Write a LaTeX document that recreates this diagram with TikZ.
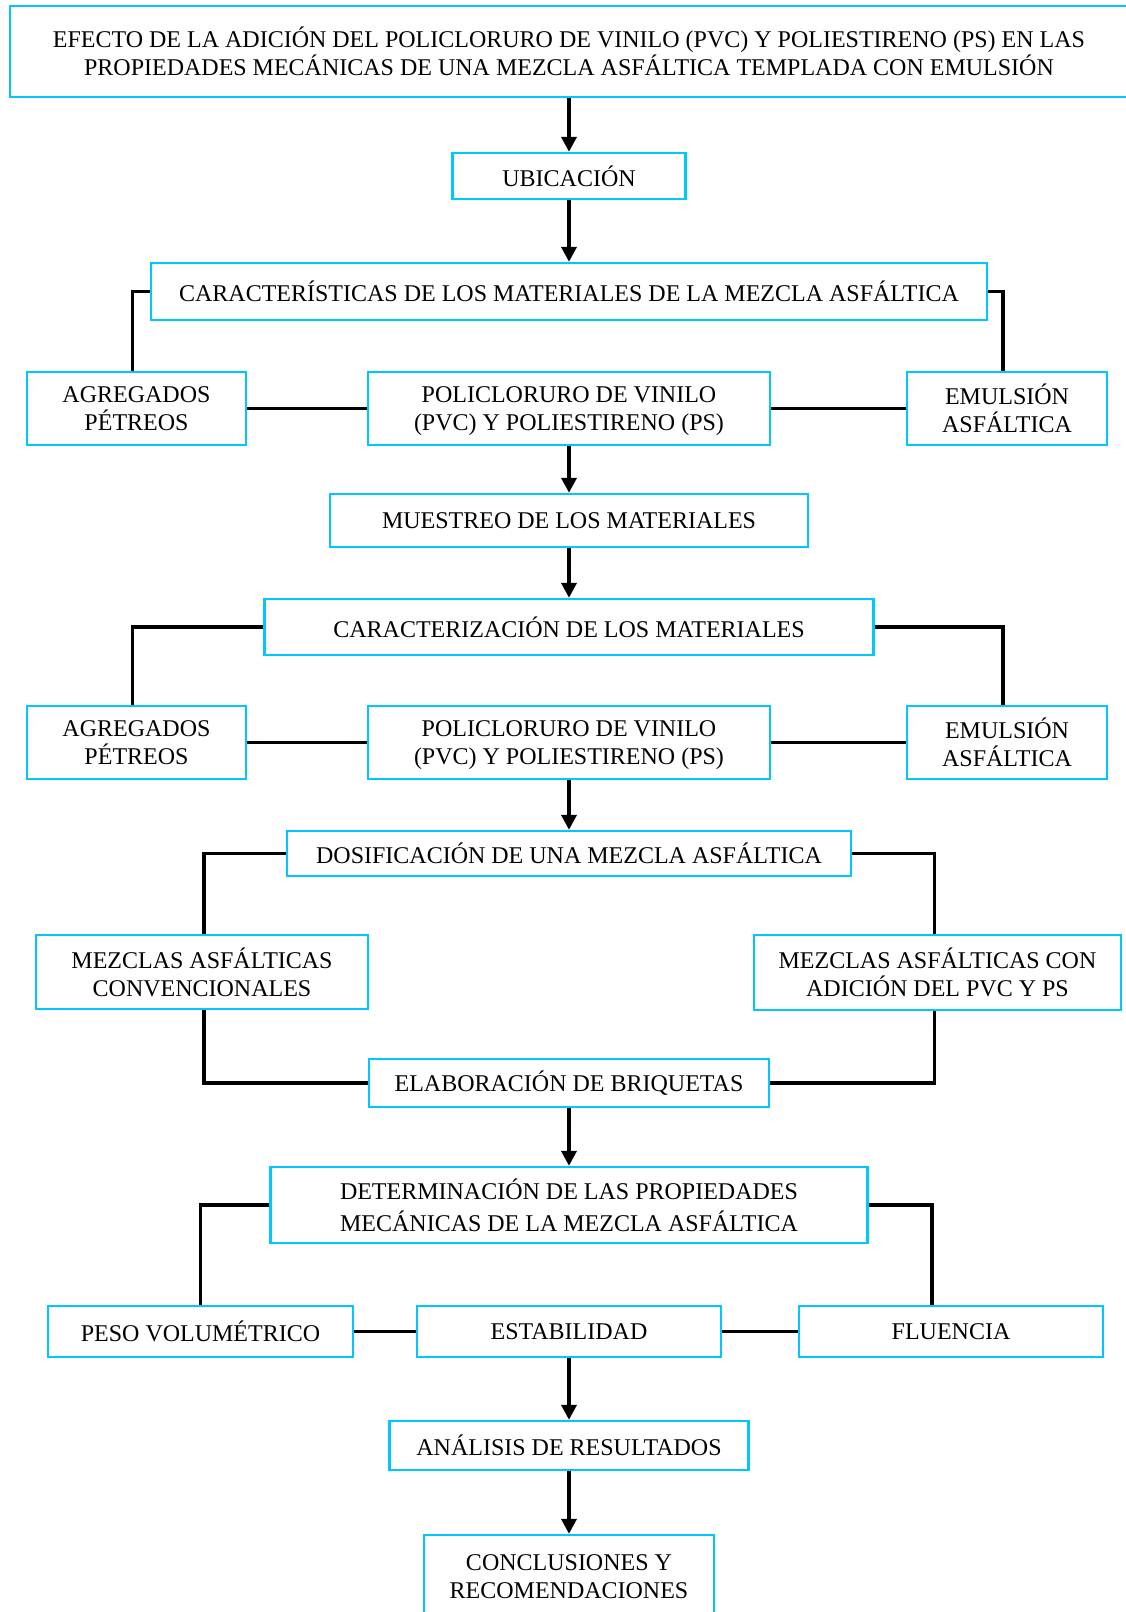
\documentclass[tikz,border=0pt]{standalone}
\usepackage{fontspec}
\setmainfont{Liberation Serif}
\usetikzlibrary{positioning}
\usetikzlibrary{arrows.meta,calc}

\definecolor{celeste}{RGB}{0,200,255}

\tikzset{
  caja/.style={draw=celeste, line width=1.2pt, fill=white, align=center,
    font=\fontsize{12}{14}\selectfont, inner sep=2pt},
  linea/.style={line width=1.8pt, black},
  flecha/.style={line width=1.8pt, black, -{Triangle[length=7.5pt,width=7.5pt]}}
}

\begin{document}
\begin{tikzpicture}[x=0.5pt, y=-0.5pt]

\useasboundingbox (0,0) rectangle (1125,1612);

% encabezado
\node[caja, minimum width=559pt, minimum height=45.5pt] (titulo) at (569,51.5)
  {EFECTO DE LA ADICIÓN DEL POLICLORURO DE VINILO (PVC) Y POLIESTIRENO (PS) EN LAS\\
   PROPIEDADES MECÁNICAS DE UNA MEZCLA ASFÁLTICA TEMPLADA CON EMULSIÓN};
\node[caja, minimum width=116.5pt, minimum height=23pt] (ubic) at (569,176) {UBICACIÓN};

% materiales
\node[caja, minimum width=418pt, minimum height=28.5pt] (caract) at (569,291.5)
  {CARACTERÍSTICAS DE LOS MATERIALES DE LA MEZCLA ASFÁLTICA};
\node[caja, minimum width=109.5pt, minimum height=36.5pt] (agreg1) at (136.5,408.5) {AGREGADOS\\PÉTREOS};
\node[caja, minimum width=201pt, minimum height=36.5pt] (poli1) at (569,408.5)
  {POLICLORURO DE VINILO\\\raisebox{0pt}[\height][0pt]{(PVC) Y POLIESTIRENO (PS)}};
\node[caja, minimum width=100pt, minimum height=36.5pt] (emul1) at (1007,408.5) {EMULSIÓN\\ASFÁLTICA};

\node[caja, minimum width=239pt, minimum height=26.5pt] (muestreo) at (569,520.5) {MUESTREO DE LOS MATERIALES};
\node[caja, minimum width=304.5pt, minimum height=28pt] (caracteriz) at (569,627) {CARACTERIZACIÓN DE LOS MATERIALES};
\node[caja, minimum width=109.5pt, minimum height=36.5pt] (agreg2) at (136.5,742.5) {AGREGADOS\\PÉTREOS};
\node[caja, minimum width=201pt, minimum height=36.5pt] (poli2) at (569,742.5)
  {POLICLORURO DE VINILO\\\raisebox{0pt}[\height][0pt]{(PVC) Y POLIESTIRENO (PS)}};
\node[caja, minimum width=100pt, minimum height=36.5pt] (emul2) at (1007,742.5) {EMULSIÓN\\ASFÁLTICA};

% dosificacion
\node[caja, minimum width=282pt, minimum height=22.5pt] (dosif) at (569,853.5) {DOSIFICACIÓN DE UNA MEZCLA ASFÁLTICA};
\node[caja, minimum width=166pt, minimum height=37pt] (mconv) at (202,972) {MEZCLAS ASFÁLTICAS\\CONVENCIONALES};
\node[caja, minimum width=183.5pt, minimum height=37.5pt] (madic) at (937.5,972.5) {MEZCLAS ASFÁLTICAS CON\\ADICIÓN DEL PVC Y PS};
\node[caja, minimum width=200pt, minimum height=24pt] (elab) at (569,1083) {ELABORACIÓN DE BRIQUETAS};

% ensayos
\node[caja, minimum width=298.5pt, minimum height=38pt] (determ) at (569,1205)
  {DETERMINACIÓN DE LAS PROPIEDADES\\[2pt]MECÁNICAS DE LA MEZCLA ASFÁLTICA};
\node[caja, minimum width=152.5pt, minimum height=25.5pt] (peso) at (200.5,1331.5) {PESO VOLUMÉTRICO};
\node[caja, minimum width=152pt, minimum height=25.5pt] (estab) at (569,1331.5) {ESTABILIDAD};
\node[caja, minimum width=152pt, minimum height=25.5pt] (fluen) at (951,1331.5) {FLUENCIA};

\node[caja, minimum width=179.5pt, minimum height=24.5pt] (analisis) at (569,1445.5) {ANÁLISIS DE RESULTADOS};
\node[caja, minimum width=145pt, minimum height=42pt] (concl) at (569,1577) {CONCLUSIONES Y\\RECOMENDACIONES};

% flechas
\draw[flecha] (titulo) -- (ubic);
\draw[flecha] (ubic) -- (caract);
\draw[flecha] (poli1) -- (muestreo);
\draw[flecha] (muestreo) -- (caracteriz);
\draw[flecha] (poli2) -- (dosif);
\draw[flecha] (elab) -- (determ);
\draw[flecha] (estab) -- (analisis);
\draw[flecha] (analisis) -- (concl);

% lineas
\draw[linea] (caract.west) -| ([xshift=-2pt]agreg1.north);
\draw[linea] (caract.east) -| ([xshift=-2pt]emul1.north);
\draw[linea] (agreg1) -- (poli1);
\draw[linea] (poli1) -- (emul1);
\draw[linea] (caracteriz.west) -| ([xshift=-2pt]agreg2.north);
\draw[linea] (caracteriz.east) -| ([xshift=-2pt]emul2.north);
\draw[linea] (agreg2) -- (poli2);
\draw[linea] (poli2) -- (emul2);
\draw[linea] (dosif.west) -| ([xshift=1pt]mconv.north);
\draw[linea] (dosif.east) -| ([xshift=-1.5pt]madic.north);
\draw[linea] ([xshift=1pt]mconv.south) |- (elab.west);
\draw[linea] ([xshift=-1.5pt]madic.south) |- (elab.east);
\draw[linea] (determ.west) -| (peso.north);
\draw[linea] (determ.east) -| ([xshift=-9.5pt]fluen.north);
\draw[linea] (peso) -- (estab);
\draw[linea] (estab) -- (fluen);

\end{tikzpicture}
\end{document}
